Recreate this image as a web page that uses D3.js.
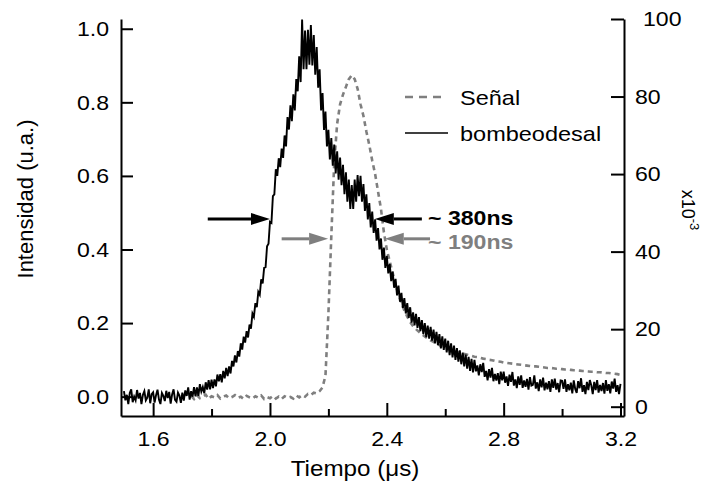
<!DOCTYPE html>
<html>
<head>
    <meta charset="utf-8" />
    <title>Tiempo</title>
    <script src="https://cdn.jsdelivr.net/npm/d3@7"></script>
    <style>
        body { margin: 0; background: #fff; }
        text { font-family: "Liberation Sans", Arial, sans-serif; }
    </style>
</head>
<body>
</body>
<script>
    // black trace "bombeodesal" (left axis, u.a.), 1.500 .. 3.200 every 0.005 us
    var T0 = 1.50, DT = 0.005
    var bombeo = [
        0.015, -0.010, 0.005, -0.020, 0.010, 0.020, -0.015, 0.000, -0.010, 0.018,
        -0.005, 0.010, -0.020, 0.005, 0.015, -0.010, -0.003, 0.020, -0.018, 0.007,
        0.012, -0.016, 0.004, 0.019, -0.008, -0.020, 0.010, 0.002, -0.012, 0.016,
        -0.004, 0.013, -0.019, 0.006, 0.020, -0.009, -0.014, 0.011, 0.003, -0.017,
        0.011, -0.011, 0.017, 0.002, 0.025, -0.008, 0.015, 0.000, 0.026, 0.001,
        0.025, 0.002, 0.034, 0.014, 0.026, 0.009, 0.039, 0.019, 0.045, 0.020,
        0.046, 0.023, 0.047, 0.028, 0.060, 0.042, 0.061, 0.039, 0.070, 0.050,
        0.078, 0.056, 0.082, 0.063, 0.097, 0.082, 0.112, 0.093, 0.124, 0.109,
        0.145, 0.128, 0.163, 0.147, 0.178, 0.161, 0.196, 0.185, 0.226, 0.217,
        0.254, 0.243, 0.285, 0.277, 0.319, 0.308, 0.350, 0.352, 0.409, 0.416,
        0.475, 0.472, 0.545, 0.550, 0.618, 0.600, 0.648, 0.624, 0.674, 0.649,
        0.710, 0.680, 0.760, 0.726, 0.792, 0.749, 0.822, 0.778, 0.863, 0.830,
        0.925, 0.855, 1.025, 0.890, 0.995, 0.890, 0.997, 0.902, 1.010, 0.900,
        0.983, 0.875, 0.950, 0.840, 0.890, 0.778, 0.825, 0.725, 0.775, 0.680,
        0.725, 0.645, 0.703, 0.628, 0.685, 0.607, 0.667, 0.590, 0.650, 0.575,
        0.630, 0.550, 0.610, 0.530, 0.590, 0.510, 0.575, 0.510, 0.590, 0.530,
        0.602, 0.545, 0.600, 0.530, 0.578, 0.505, 0.550, 0.482, 0.526, 0.460,
        0.503, 0.445, 0.482, 0.424, 0.458, 0.400, 0.430, 0.372, 0.405, 0.350,
        0.383, 0.335, 0.360, 0.314, 0.340, 0.296, 0.320, 0.275, 0.302, 0.258,
        0.282, 0.241, 0.268, 0.226, 0.254, 0.214, 0.243, 0.201, 0.229, 0.194,
        0.225, 0.187, 0.216, 0.178, 0.208, 0.170, 0.200, 0.162, 0.193, 0.158,
        0.190, 0.152, 0.182, 0.145, 0.176, 0.140, 0.170, 0.131, 0.164, 0.127,
        0.158, 0.120, 0.152, 0.113, 0.145, 0.107, 0.139, 0.100, 0.132, 0.095,
        0.126, 0.088, 0.120, 0.082, 0.114, 0.076, 0.108, 0.070, 0.103, 0.066,
        0.100, 0.069, 0.085, 0.058, 0.088, 0.067, 0.092, 0.054, 0.070, 0.044,
        0.075, 0.052, 0.078, 0.042, 0.062, 0.044, 0.064, 0.034, 0.068, 0.044,
        0.068, 0.038, 0.055, 0.029, 0.060, 0.040, 0.067, 0.030, 0.047, 0.023,
        0.055, 0.032, 0.058, 0.024, 0.044, 0.027, 0.048, 0.019, 0.053, 0.030,
        0.032, 0.058, 0.022, 0.039, 0.015, 0.047, 0.025, 0.052, 0.017, 0.038,
        0.020, 0.042, 0.013, 0.047, 0.024, 0.049, 0.019, 0.037, 0.012, 0.044,
        0.043, 0.021, 0.047, 0.013, 0.034, 0.017, 0.038, 0.009, 0.044, 0.021,
        0.010, 0.042, 0.023, 0.050, 0.013, 0.031, 0.007, 0.040, 0.018, 0.045,
        0.031, 0.007, 0.040, 0.018, 0.045, 0.011, 0.032, 0.015, 0.037, 0.008,
        0.045, 0.016, 0.034, 0.009, 0.041, 0.022, 0.049, 0.013, 0.031, 0.007,
        0.035
    ]
    // grey dashed trace "Señal" (right axis, x10^-3), 1.73 .. 3.20 every 0.01 us
    var S0 = 1.73, SDT = 0.01
    var senal = [
        2.8, 2.0, 3.0, 2.2, 2.6, 3.1, 2.0, 2.7, 2.4, 3.0,
        2.1, 2.6, 2.9, 2.2, 2.5, 3.0, 2.3, 2.6, 2.0, 2.8,
        2.4, 2.1, 2.7, 2.3, 2.9, 2.0, 2.5, 2.2, 2.8, 2.1,
        2.6, 2.0, 2.7, 2.3, 2.5, 2.1, 2.9, 2.4, 3.0, 2.6,
        3.3, 3.0, 3.6, 3.4, 4.0,
        5, 8, 24, 44, 63, 73, 78, 80.5, 82.5, 84.5,
        85.5, 84.5, 82, 78, 75, 71, 67.5, 63.5, 60, 55.5,
        51, 45, 40.5, 37.5, 34.5, 31.5, 29, 26.8, 24.8, 23.2,
        21.8, 20.8, 20, 19.3, 18.7, 18.1, 17.6, 17.1, 16.7, 16.3,
        15.9, 15.5, 15.2, 14.9, 14.6, 14.4, 14.1, 13.9, 13.7, 13.5,
        13.3, 13.1, 12.9, 12.8, 12.6, 12.4, 12.3, 12.1, 12.0, 11.8,
        11.7, 11.6, 11.4, 11.3, 11.2, 11.1, 11.0, 10.9, 10.8, 10.7,
        10.6, 10.5, 10.4, 10.4, 10.3, 10.2, 10.1, 10.0, 10.0, 9.9,
        9.8, 9.8, 9.7, 9.6, 9.6, 9.5, 9.4, 9.4, 9.3, 9.2,
        9.2, 9.1, 9.0, 9.0, 8.9, 8.9, 8.8, 8.7, 8.7, 8.6,
        8.5, 8.4, 8.2
    ]
    var xMajor = [1.6, 2.0, 2.4, 2.8, 3.2]
    var xMinor = [1.8, 2.2, 2.6, 3.0]
    var yLeftTicks = [0, 0.2, 0.4, 0.6, 0.8, 1.0]
    var yRightTicks = [0, 20, 40, 60, 80, 100]
    // FWHM markers: [tail, tip] in time, level on each trace's own axis
    var fwhmBlack = { level: 0.483, arrows: [[1.787, 2.0], [2.52, 2.359]], label: "~ 380ns" }
    var fwhmGrey = { level: 43.3, arrows: [[2.04, 2.199], [2.548, 2.393]], label: "~ 190ns" }

    var GREY = "#7f7f7f"
    var W = 707, H = 489
    var STRETCH = 1.1 // text in the source is a little wider than plain Arial

    var svg = d3.select("body").append("svg").attr("width", W).attr("height", H)

    var x = d3.scaleLinear().domain([1.49, 3.212]).range([121, 624])
    var yL = d3.scaleLinear().domain([-0.0526, 1.0265]).range([416, 19])
    var yR = d3.scaleLinear().domain([-2.4, 100]).range([416, 19])

    var bombeoPts = bombeo.map((v, i) => [T0 + i * DT, v])
    var senalPts = senal.map((v, i) => [S0 + i * SDT, v])

    function stretch(sel, k) {
        sel.each(function () {
            var t = d3.select(this)
            var tx = +t.attr("x") || 0, ty = +t.attr("y") || 0
            t.attr("transform", "translate(" + tx + "," + ty + ") scale(" + k + ",1) translate(" + (-tx) + "," + (-ty) + ")")
        })
    }

    // traces
    svg.append("path")
        .attr("d", d3.line().x(d => x(d[0])).y(d => yR(d[1]))(senalPts))
        .attr("fill", "none").attr("stroke", GREY).attr("stroke-width", 2.6)
        .attr("stroke-dasharray", "5,4")
    svg.append("path")
        .attr("d", d3.line().x(d => x(d[0])).y(d => yL(d[1]))(bombeoPts))
        .attr("fill", "none").attr("stroke", "#000").attr("stroke-width", 1.9)

    // axes
    function styleAxis(g) {
        g.selectAll("path, line").attr("stroke", "#000").attr("stroke-width", 2)
        g.selectAll("text").attr("font-size", 21).attr("fill", "#000")
            .attr("font-family", "'Liberation Sans', Arial, sans-serif")
    }
    var gx = svg.append("g").attr("transform", "translate(0,416)")
        .call(d3.axisBottom(x).tickValues(xMajor).tickSize(-13).tickSizeOuter(0)
            .tickFormat(d3.format(".1f")))
    styleAxis(gx)
    gx.selectAll("text").attr("y", 30).attr("dy", null)
    stretch(gx.selectAll("text"), STRETCH)
    var gxm = svg.append("g").attr("transform", "translate(0,416)")
        .call(d3.axisBottom(x).tickValues(xMinor).tickSize(-7).tickSizeOuter(0).tickFormat(""))
    styleAxis(gxm)
    gxm.select(".domain").remove()

    var gl = svg.append("g").attr("transform", "translate(121,0)")
        .call(d3.axisLeft(yL).tickValues(yLeftTicks).tickSize(-12).tickSizeOuter(0).tickPadding(12)
            .tickFormat(d3.format(".1f")))
    styleAxis(gl)
    stretch(gl.selectAll("text"), STRETCH)

    var gr = svg.append("g").attr("transform", "translate(624,0)")
        .call(d3.axisRight(yR).tickValues(yRightTicks).tickSize(-13).tickSizeOuter(0).tickPadding(11))
    styleAxis(gr)
    gr.selectAll(".tick text").filter(d => d === 100).attr("x", 19)
    stretch(gr.selectAll("text"), STRETCH)

    // axis titles
    var xt = svg.append("text").attr("x", 355).attr("y", 476).attr("text-anchor", "middle")
        .attr("font-size", 22).text("Tiempo (\u03bcs)")
    stretch(xt, STRETCH)
    svg.append("text").attr("transform", "translate(33,199) rotate(-90)").attr("text-anchor", "middle")
        .attr("font-size", 22).text("Intensidad (u.a.)")
    var rt = svg.append("text").attr("transform", "translate(682,210) rotate(90)").attr("text-anchor", "middle")
        .attr("font-size", 18)
    rt.append("tspan").text("x10")
    rt.append("tspan").attr("dy", -8).attr("font-size", 13).text("-3")

    // arrows
    function arrow(x1, x2, yy, color) {
        var dir = x2 > x1 ? 1 : -1
        var len = 19, half = 6
        svg.append("line").attr("x1", x1).attr("x2", x2 - dir * len).attr("y1", yy).attr("y2", yy)
            .attr("stroke", color).attr("stroke-width", 3)
        svg.append("path")
            .attr("d", "M" + x2 + "," + yy + "L" + (x2 - dir * len) + "," + (yy - half) + "L" + (x2 - dir * len) + "," + (yy + half) + "Z")
            .attr("fill", color)
    }
    fwhmBlack.arrows.forEach(a => arrow(x(a[0]), x(a[1]), yL(fwhmBlack.level), "#000"))
    fwhmGrey.arrows.forEach(a => arrow(x(a[0]), x(a[1]), yR(fwhmGrey.level), GREY))
    var lb = svg.append("text").attr("x", 428).attr("y", yL(fwhmBlack.level) + 6)
        .attr("font-size", 21).attr("font-weight", "bold").attr("fill", "#000").text(fwhmBlack.label)
    var lg = svg.append("text").attr("x", 428).attr("y", yR(fwhmGrey.level) + 10)
        .attr("font-size", 21).attr("font-weight", "bold").attr("fill", GREY).text(fwhmGrey.label)
    stretch(lb, STRETCH)
    stretch(lg, STRETCH)

    // legend
    var legend = svg.append("g")
    legend.append("line").attr("x1", 405).attr("x2", 445).attr("y1", 97).attr("y2", 97)
        .attr("stroke", GREY).attr("stroke-width", 2.6).attr("stroke-dasharray", "8,6")
    legend.append("line").attr("x1", 405).attr("x2", 448).attr("y1", 133).attr("y2", 133)
        .attr("stroke", "#000").attr("stroke-width", 1.5)
    legend.append("text").attr("x", 460).attr("y", 105).attr("font-size", 21).text("Se\u00f1al")
    legend.append("text").attr("x", 460).attr("y", 141).attr("font-size", 21).text("bombeodesal")
    stretch(legend.selectAll("text"), 1.12)
</script>
</html>
